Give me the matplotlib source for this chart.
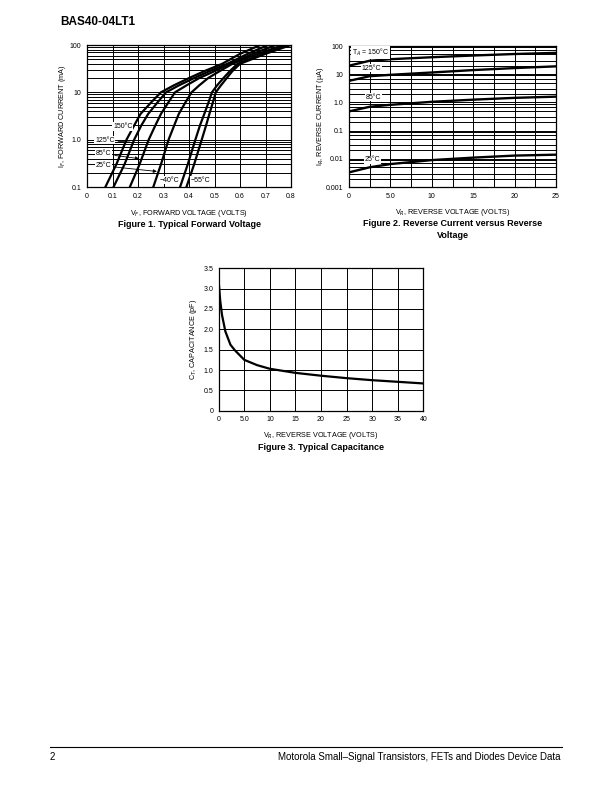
import numpy as np
import matplotlib.pyplot as plt
from matplotlib.ticker import FixedLocator, NullFormatter, LogLocator

plt.rcParams['font.family'] = ['Liberation Sans', 'DejaVu Sans']

# Figure 1: forward voltage (V) vs forward current (mA), per temperature
fwd_temps = ['150', '125', '85', '25', '-40', '-55']
fwd_vf = [
    [0.072, 0.115, 0.155, 0.185, 0.21, 0.25, 0.29, 0.34, 0.40, 0.46, 0.53, 0.60, 0.68],
    [0.104, 0.147, 0.185, 0.213, 0.24, 0.275, 0.31, 0.36, 0.42, 0.48, 0.55, 0.63, 0.71],
    [0.168, 0.206, 0.242, 0.268, 0.29, 0.318, 0.345, 0.39, 0.44, 0.50, 0.56, 0.65, 0.74],
    [0.26, 0.29, 0.32, 0.342, 0.36, 0.385, 0.41, 0.44, 0.475, 0.52, 0.57, 0.67, 0.77],
    [0.365, 0.395, 0.425, 0.443, 0.46, 0.476, 0.49, 0.51, 0.535, 0.56, 0.59, 0.69, 0.79],
    [0.39, 0.42, 0.45, 0.467, 0.48, 0.493, 0.505, 0.525, 0.548, 0.57, 0.60, 0.70, 0.80],
]
fwd_if = [0.1, 0.3, 1.0, 2.0, 3.5, 6.0, 10, 14, 20, 28, 40, 65, 100]

# Figure 2: reverse voltage (V) vs reverse current (uA)
rev_vr = [0, 2.5, 5, 10, 15, 20, 25]
rev_temps = ['150', '125', '85', '25']
rev_ir = [
    [20, 30, 34, 40, 46, 52, 57],
    [5.8, 8.5, 9.5, 11.5, 14, 16.5, 19],
    [0.48, 0.7, 0.82, 1.05, 1.25, 1.45, 1.6],
    [0.0033, 0.005, 0.0065, 0.009, 0.011, 0.013, 0.014],
]

# Figure 3: reverse voltage (V) vs capacitance (pF)
cap_vr = [0, 0.3, 0.65, 1.3, 2.3, 3.2, 5, 7.5, 10, 15, 20, 25, 30, 35, 40]
cap_ct = [3.17, 2.7, 2.35, 1.95, 1.62, 1.48, 1.25, 1.12, 1.03, 0.93, 0.86, 0.80, 0.75, 0.71, 0.67]

fig = plt.figure(figsize=(6.12, 7.92), dpi=100)

tick_fs = 5
lab_fs = 5.2
cap_fs = 6.5
box = dict(boxstyle='square,pad=0.1', fc='white', ec='none')


def style(ax):
    for s in ax.spines.values():
        s.set_linewidth(0.9)
        s.set_color('black')
    ax.tick_params(length=0, labelsize=tick_fs, pad=4, which='both')
    ax.set_axisbelow(True)


# ---------- Figure 1 ----------
ax1 = fig.add_axes([87 / 612, 1 - 187 / 792, 204 / 612, 142 / 792])
for vf in fwd_vf:
    ax1.plot(vf, fwd_if, color='black', lw=1.6)
ax1.set_yscale('log')
ax1.set_xlim(0, 0.8)
ax1.set_ylim(0.1, 100)
ax1.set_xticks(np.arange(0, 0.81, 0.1))
ax1.set_xticklabels(['0', '0.1', '0.2', '0.3', '0.4', '0.5', '0.6', '0.7', '0.8'])
ax1.set_yticks([0.1, 1, 10, 100])
ax1.set_yticklabels(['0.1', '1.0', '10', '100'])
ax1.yaxis.set_minor_locator(LogLocator(base=10, subs=np.arange(2, 10)))
ax1.yaxis.set_minor_formatter(NullFormatter())
ax1.grid(True, which='both', color='black', lw=0.7)
style(ax1)
ax1.set_xlabel('V$_F$, FORWARD VOLTAGE (VOLTS)', fontsize=lab_fs, labelpad=6)
ax1.set_ylabel('I$_F$, FORWARD CURRENT (mA)', fontsize=lab_fs, labelpad=1)
ax1.text(0.5, -0.265, 'Figure 1. Typical Forward Voltage', transform=ax1.transAxes,
         ha='center', va='center', fontsize=cap_fs, fontweight='bold')

ax1.text(0.14, 1.9, '150°C', fontsize=tick_fs, ha='center', va='center', bbox=box)
ax1.annotate('125°C', xy=(0.18, 0.88), xytext=(0.07, 0.97), fontsize=tick_fs,
             ha='center', va='center', bbox=box,
             arrowprops=dict(arrowstyle='-', lw=0.6, color='black'))
ax1.annotate('85°C', xy=(0.215, 0.39), xytext=(0.065, 0.5), fontsize=tick_fs,
             ha='center', va='center', bbox=box,
             arrowprops=dict(arrowstyle='-|>', lw=0.6, color='black', mutation_scale=5))
ax1.annotate('25°C', xy=(0.285, 0.21), xytext=(0.065, 0.28), fontsize=tick_fs,
             ha='center', va='center', bbox=box,
             arrowprops=dict(arrowstyle='-|>', lw=0.6, color='black', mutation_scale=5))
ax1.text(0.325, 0.14, '−40°C', fontsize=tick_fs, ha='center', va='center', bbox=box)
ax1.text(0.445, 0.14, '−55°C', fontsize=tick_fs, ha='center', va='center', bbox=box)

# ---------- Figure 2 ----------
ax2 = fig.add_axes([349 / 612, 1 - 187 / 792, 207 / 612, 141 / 792])
for ir in rev_ir:
    ax2.plot(rev_vr, ir, color='black', lw=1.7)
ax2.set_yscale('log')
ax2.set_xlim(0, 25)
ax2.set_ylim(0.001, 100)
ax2.set_xticks([0, 5, 10, 15, 20, 25])
ax2.set_xticklabels(['0', '5.0', '10', '15', '20', '25'])
ax2.xaxis.set_minor_locator(FixedLocator(np.arange(2.5, 25, 5)))
ax2.set_yticks([0.001, 0.01, 0.1, 1, 10, 100])
ax2.set_yticklabels(['0.001', '0.01', '0.1', '1.0', '10', '100'])
ax2.yaxis.set_minor_locator(LogLocator(base=10, subs=[2, 3, 5, 7, 9]))
ax2.yaxis.set_minor_formatter(NullFormatter())
ax2.grid(True, which='both', color='black', lw=0.7)
style(ax2)
ax2.set_xlabel('V$_R$, REVERSE VOLTAGE (VOLTS)', fontsize=lab_fs, labelpad=5)
ax2.set_ylabel('I$_R$, REVERSE CURRENT (µA)', fontsize=lab_fs, labelpad=0)
ax2.text(0.5, -0.3, 'Figure 2. Reverse Current versus Reverse\nVoltage',
         transform=ax2.transAxes, ha='center', va='center', fontsize=cap_fs,
         fontweight='bold', linespacing=1.35)

ax2.text(2.6, 58, 'T$_A$ = 150°C', fontsize=tick_fs, ha='center', va='center', bbox=box)
ax2.text(2.7, 16.5, '125°C', fontsize=tick_fs, ha='center', va='center', bbox=box)
ax2.text(3.0, 1.55, '85°C', fontsize=tick_fs, ha='center', va='center', bbox=box)
ax2.text(2.8, 0.0091, '25°C', fontsize=tick_fs, ha='center', va='center', bbox=box)

# ---------- Figure 3 ----------
ax3 = fig.add_axes([218.7 / 612, 1 - 410.7 / 792, 204.6 / 612, 142.4 / 792])
ax3.plot(cap_vr, cap_ct, color='black', lw=1.6)
ax3.set_xlim(0, 40)
ax3.set_ylim(0, 3.5)
ax3.set_xticks(np.arange(0, 41, 5))
ax3.set_xticklabels(['0', '5.0', '10', '15', '20', '25', '30', '35', '40'])
ax3.set_yticks(np.arange(0, 3.51, 0.5))
ax3.set_yticklabels(['0', '0.5', '1.0', '1.5', '2.0', '2.5', '3.0', '3.5'])
ax3.grid(True, color='black', lw=0.7)
style(ax3)
ax3.set_xlabel('V$_R$, REVERSE VOLTAGE (VOLTS)', fontsize=lab_fs, labelpad=5)
ax3.set_ylabel('C$_T$, CAPACITANCE (pF)', fontsize=lab_fs, labelpad=3)
ax3.text(0.5, -0.255, 'Figure 3. Typical Capacitance', transform=ax3.transAxes,
         ha='center', va='center', fontsize=cap_fs, fontweight='bold')

# ---------- page header / footer ----------
fig.text(60 / 612, 1 - 22 / 792, 'BAS40-04LT1', fontsize=8.5, fontweight='heavy',
         ha='left', va='center')
fig.add_artist(plt.Line2D([50 / 612, 562 / 612], [1 - 747 / 792, 1 - 747 / 792],
                          color='black', lw=0.8))
fig.text(50 / 612, 1 - 757 / 792, '2', fontsize=7, ha='left', va='center')
fig.text(560 / 612, 1 - 757 / 792,
         'Motorola Small–Signal Transistors, FETs and Diodes Device Data',
         fontsize=7, ha='right', va='center')

fig.savefig('out.png', dpi=100)
